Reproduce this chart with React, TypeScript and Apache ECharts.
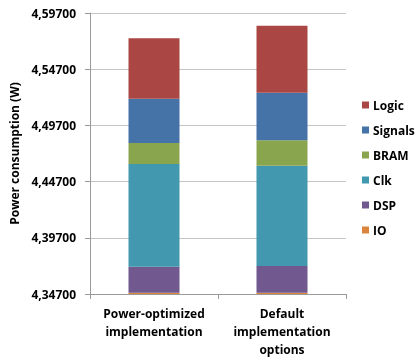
import { useEffect, useRef } from "react";
import * as echarts from "echarts";

// Stacked power breakdown (W) for two implementation strategies
const categories = ["Power-optimized\nimplementation", "Default\nimplementation\noptions"];
const io = [4.3481, 4.3481];
const dsp = [0.0232, 0.0238];
const clk = [0.0914, 0.0893];
const bram = [0.0186, 0.0225];
const signals = [0.0395, 0.0424];
const logic = [0.0537, 0.0596];

// Value axis window and tick step
const AXIS_MIN = 4.347;
const AXIS_MAX = 4.597;
const TICK_STEP = 0.05;

const FONT = "'Open Sans', 'Noto Sans', sans-serif";

const colors: Record<string, string> = {
  IO: "#DB843D",
  DSP: "#71588F",
  Clk: "#4198AF",
  BRAM: "#89A54E",
  Signals: "#4572A7",
  Logic: "#AA4643",
};

export default function App() {
  const ref = useRef<HTMLDivElement>(null);

  useEffect(() => {
    if (!ref.current) return;
    const chart = echarts.init(ref.current, undefined, { renderer: "svg" });

    // The axis is drawn relative to AXIS_MIN so ticks fall on AXIS_MIN + k * TICK_STEP
    const layers: [string, number[]][] = [
      ["IO", io.map((v) => v - AXIS_MIN)],
      ["DSP", dsp],
      ["Clk", clk],
      ["BRAM", bram],
      ["Signals", signals],
      ["Logic", logic],
    ];

    chart.setOption({
      animation: false,
      textStyle: { fontFamily: FONT },
      grid: { left: 88, right: 71, top: 13, bottom: 66 },
      legend: {
        orient: "vertical",
        left: 362,
        top: 98,
        padding: 0,
        icon: "rect",
        itemWidth: 7,
        itemHeight: 7,
        itemGap: 11,
        data: ["Logic", "Signals", "BRAM", "Clk", "DSP", "IO"],
        textStyle: { fontFamily: FONT, fontSize: 12, fontWeight: "bold", color: "#000", padding: [0, 0, 0, -1], lineHeight: 14 },
      },
      xAxis: {
        type: "category",
        data: categories,
        axisLine: { lineStyle: { color: "#9a9a9a" } },
        axisTick: { show: true, length: 5, lineStyle: { color: "#9a9a9a" } },
        axisLabel: {
          interval: 0,
          margin: 10,
          fontFamily: FONT,
          fontSize: 12,
          fontWeight: "bold",
          color: "#000",
          lineHeight: 18,
        },
      },
      yAxis: {
        type: "value",
        min: 0,
        max: AXIS_MAX - AXIS_MIN,
        interval: TICK_STEP,
        name: "Power consumption (W)",
        nameLocation: "middle",
        nameGap: 70,
        nameTextStyle: { fontFamily: FONT, fontSize: 12, fontWeight: "bold", color: "#000" },
        axisLine: { show: true, lineStyle: { color: "#9a9a9a" } },
        axisTick: { show: true, length: 5, lineStyle: { color: "#9a9a9a" } },
        splitLine: { lineStyle: { color: "#c4c4c4" } },
        axisLabel: {
          margin: 14,
          fontFamily: FONT,
          fontSize: 12,
          fontWeight: "bold",
          color: "#000",
          formatter: (v: number) => (AXIS_MIN + v).toFixed(5).replace(".", ","),
        },
      },
      series: layers.map(([name, data]) => ({
        name,
        type: "bar",
        stack: "power",
        barWidth: 51,
        data,
        itemStyle: { color: colors[name] },
      })),
    });

    return () => chart.dispose();
  }, []);

  return <div ref={ref} style={{ position: "fixed", left: 0, top: 0, width: 417, height: 360 }} />;
}
